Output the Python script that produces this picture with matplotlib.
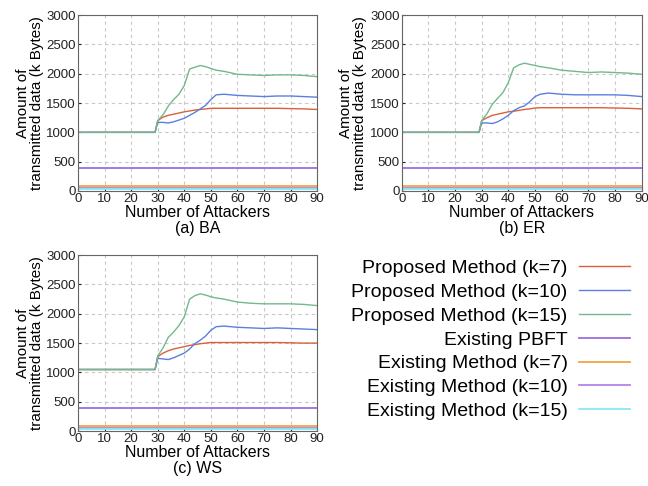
import matplotlib.pyplot as plt

plt.rcParams['font.family'] = ['Liberation Sans', 'DejaVu Sans']

attackers = [0, 29, 30, 32, 34, 36, 38, 40, 42, 44, 46, 48, 50, 52, 55, 60, 65, 70, 75, 80, 85, 90]

ba_k7 = [1000, 1000, 1200, 1260, 1290, 1310, 1330, 1350, 1365, 1380, 1390, 1400, 1410, 1410, 1410, 1410, 1410, 1410, 1410, 1405, 1400, 1390]
ba_k10 = [1000, 1000, 1170, 1170, 1160, 1180, 1210, 1240, 1290, 1340, 1400, 1460, 1560, 1640, 1650, 1630, 1620, 1610, 1620, 1620, 1610, 1600]
ba_k15 = [1000, 1000, 1200, 1300, 1450, 1560, 1650, 1800, 2080, 2110, 2140, 2120, 2090, 2060, 2040, 1990, 1980, 1970, 1980, 1980, 1970, 1950]

er_k7 = [1000, 1000, 1200, 1250, 1290, 1310, 1330, 1350, 1360, 1375, 1390, 1400, 1415, 1420, 1420, 1420, 1420, 1420, 1420, 1415, 1410, 1400]
er_k10 = [1000, 1000, 1160, 1160, 1150, 1180, 1230, 1290, 1370, 1420, 1450, 1520, 1610, 1650, 1670, 1650, 1640, 1640, 1640, 1640, 1630, 1610]
er_k15 = [1000, 1000, 1200, 1320, 1480, 1580, 1680, 1850, 2100, 2150, 2180, 2160, 2140, 2120, 2100, 2060, 2040, 2020, 2030, 2020, 2010, 1990]

ws_k7 = [1050, 1050, 1270, 1330, 1370, 1400, 1420, 1440, 1460, 1475, 1490, 1500, 1510, 1510, 1510, 1510, 1510, 1510, 1510, 1505, 1500, 1500]
ws_k10 = [1050, 1050, 1240, 1230, 1220, 1250, 1290, 1330, 1400, 1490, 1550, 1620, 1720, 1780, 1790, 1770, 1760, 1750, 1760, 1750, 1740, 1730]
ws_k15 = [1050, 1050, 1280, 1420, 1600, 1690, 1800, 1950, 2250, 2310, 2340, 2320, 2290, 2270, 2250, 2200, 2180, 2170, 2170, 2170, 2160, 2140]

# existing methods are flat lines
flat_x = [0, 90]
pbft = [390, 390]
exist_k7 = [85, 85]
exist_k10 = [45, 45]
exist_k15 = [35, 35]

labels = ['Proposed Method (k=7)', 'Proposed Method (k=10)', 'Proposed Method (k=15)',
          'Existing PBFT', 'Existing Method (k=7)', 'Existing Method (k=10)',
          'Existing Method (k=15)']
colors = ['#d9603b', '#5b7fe0', '#72b98c', '#9a6fe0', '#f2a540', '#b383e6', '#86e9f2']

panels = [
    ('(a) BA', [ba_k7, ba_k10, ba_k15], [0.1204, 0.607, 0.369, 0.362]),
    ('(b) ER', [er_k7, er_k10, er_k15], [0.620, 0.607, 0.370, 0.362]),
    ('(c) WS', [ws_k7, ws_k10, ws_k15], [0.1204, 0.113, 0.369, 0.362]),
]

fig = plt.figure(figsize=(6.48, 4.86), dpi=100)

for caption, proposed, rect in panels:
    ax = fig.add_axes(rect)
    handles = []
    for vals, c, lab in zip(proposed, colors[:3], labels[:3]):
        h, = ax.plot(attackers, vals, color=c, lw=1.0, label=lab)
        handles.append(h)
    for vals, c, lab in zip([pbft, exist_k7, exist_k10, exist_k15], colors[3:], labels[3:]):
        h, = ax.plot(flat_x, vals, color=c, lw=1.3, label=lab)
        handles.append(h)

    ax.set_xlim(0, 90)
    ax.set_ylim(0, 3000)
    ax.set_xticks(range(0, 91, 10))
    ax.set_yticks(range(0, 3001, 500))
    ax.grid(True, color='#c8c8c8', linestyle=(0, (3, 3)), lw=0.8)
    ax.tick_params(labelsize=9.5, direction='in', length=2, pad=1.5, colors='#222222')
    for sp in ax.spines.values():
        sp.set_color('#666666')
        sp.set_linewidth(0.8)
    ax.set_ylabel('Amount of\ntransmitted data (k Bytes)', fontsize=11,
                  linespacing=1.0, labelpad=2)
    ax.set_xlabel('Number of Attackers', fontsize=11.5, labelpad=0)
    ax.text(0.5, -0.215, caption, transform=ax.transAxes, ha='center',
            va='center', fontsize=11.5)

fig.legend(handles, labels, loc='upper right', bbox_to_anchor=(0.972, 0.466),
           frameon=False, markerfirst=False, fontsize=14, handlelength=2.6,
           handletextpad=0.6, labelspacing=0.32, borderaxespad=0, borderpad=0)

fig.savefig('out.png', dpi=100)
